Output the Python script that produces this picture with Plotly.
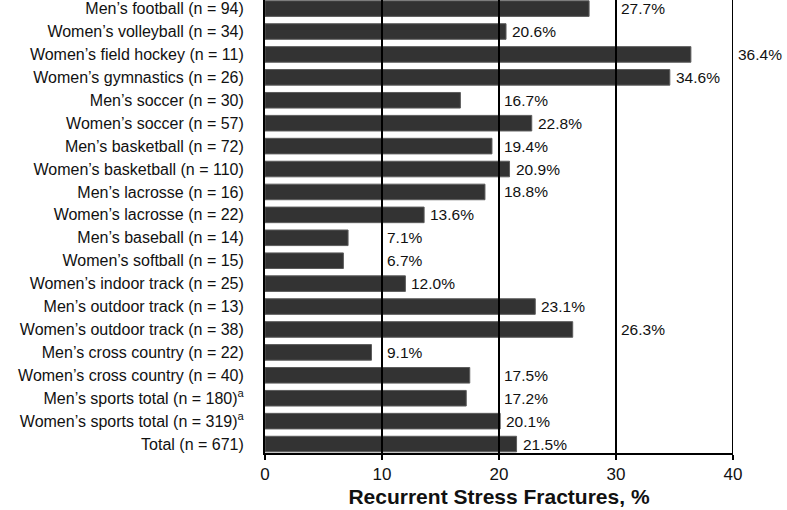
import plotly.graph_objects as go

categories = [
    "Men’s football (n = 94)",
    "Women’s volleyball (n = 34)",
    "Women’s field hockey (n = 11)",
    "Women’s gymnastics (n = 26)",
    "Men’s soccer (n = 30)",
    "Women’s soccer (n = 57)",
    "Men’s basketball (n = 72)",
    "Women’s basketball (n = 110)",
    "Men’s lacrosse (n = 16)",
    "Women’s lacrosse (n = 22)",
    "Men’s baseball (n = 14)",
    "Women’s softball (n = 15)",
    "Women’s indoor track (n = 25)",
    "Men’s outdoor track (n = 13)",
    "Women’s outdoor track (n = 38)",
    "Men’s cross country (n = 22)",
    "Women’s cross country (n = 40)",
    "Men’s sports total (n = 180)<sup>a</sup>",
    "Women’s sports total (n = 319)<sup>a</sup>",
    "Total (n = 671)",
]
values = [27.7, 20.6, 36.4, 34.6, 16.7, 22.8, 19.4, 20.9, 18.8, 13.6,
          7.1, 6.7, 12.0, 23.1, 26.3, 9.1, 17.5, 17.2, 20.1, 21.5]
tick_vals = [0, 10, 20, 30, 40]
gridlines = [10, 20, 30, 40]

FONT = "Liberation Sans, Arial, sans-serif"

fig = go.Figure()
fig.add_trace(go.Bar(
    x=values, y=categories, orientation="h",
    marker=dict(color="#333333", line=dict(color="#5c5c5c", width=1)),
    hoverinfo="skip",
))

# value labels: placed after bar end, or pushed past a gridline they would cross
px_per_unit = 468 / 40.0
for cat, v in zip(categories, values):
    text = f"{v:.1f}%"
    width_units = (len(text) * 10.0) / px_per_unit
    start = v
    for g in gridlines:
        if v < g and v + 0.35 + width_units > g:
            start = g
            break
    fig.add_annotation(
        x=start, y=cat, xref="x", yref="y", text=text, showarrow=False,
        xanchor="left", yanchor="middle", xshift=3 if start != v else 4,
        font=dict(family=FONT, size=15.5, color="#111111"),
    )

for g in gridlines:
    fig.add_shape(type="line", x0=g, x1=g, xref="x", y0=0, y1=1, yref="paper",
                  line=dict(color="black", width=2), layer="above")

fig.update_layout(
    width=787, height=510,
    margin=dict(l=265, r=54, t=0, b=57),
    paper_bgcolor="white", plot_bgcolor="white",
    bargap=0.32, showlegend=False,
    font=dict(family=FONT, color="#111111"),
    xaxis=dict(
        range=[0, 40], tickvals=tick_vals, showgrid=False, zeroline=False,
        showline=True, linecolor="black", linewidth=2,
        ticks="outside", ticklen=5, tickwidth=2, tickcolor="black",
        tickfont=dict(family=FONT, size=17, color="#111111"),
        title=dict(text="<b>Recurrent Stress Fractures, %</b>",
                   font=dict(family=FONT, size=21, color="#111111"), standoff=6),
    ),
    yaxis=dict(
        categoryorder="array", categoryarray=categories,
        range=[19.39, -0.375], showgrid=False, zeroline=False,
        showline=True, linecolor="black", linewidth=2, ticks="",
        ticklabelstandoff=16,
        tickfont=dict(family=FONT, size=16, color="#111111"),
    ),
)

fig.write_html("out.html", config={"displayModeBar": False},
               post_script="document.body.style.margin='0';")
